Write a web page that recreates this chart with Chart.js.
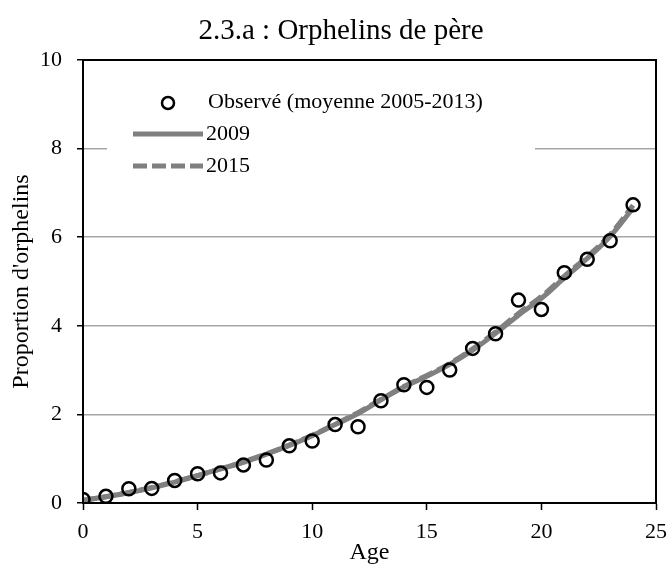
<!DOCTYPE html>
<html>
<head>
<meta charset="utf-8">
<script src="https://cdn.jsdelivr.net/npm/chart.js@4/dist/chart.umd.min.js"></script>
<style>
  html, body { margin: 0; padding: 0; background: #fff; }
  #wrap { width: 668px; height: 568px; }
</style>
</head>
<body>
<div id="wrap"><canvas id="chartOrphelins"></canvas></div>
<script>
// ages 0..24
const ages = [0, 1, 2, 3, 4, 5, 6, 7, 8, 9, 10, 11, 12, 13, 14, 15, 16, 17, 18, 19, 20, 21, 22, 23, 24];
const observed = [0.08, 0.15, 0.32, 0.33, 0.51, 0.66, 0.68, 0.86, 0.97, 1.29, 1.40, 1.77, 1.72,
  2.31, 2.67, 2.61, 3.00, 3.49, 3.82, 4.58, 4.37, 5.20, 5.50, 5.92, 6.73];
const proj2009 = [0.06, 0.14, 0.23, 0.34, 0.47, 0.62, 0.77, 0.92, 1.10, 1.30, 1.52, 1.77, 2.02,
  2.33, 2.62, 2.86, 3.13, 3.45, 3.83, 4.24, 4.62, 5.08, 5.52, 6.02, 6.66];
const proj2015 = [0.06, 0.14, 0.24, 0.35, 0.48, 0.62, 0.77, 0.93, 1.11, 1.31, 1.53, 1.78, 2.04,
  2.34, 2.63, 2.88, 3.15, 3.48, 3.86, 4.28, 4.66, 5.12, 5.56, 6.06, 6.72];
const yTicks = [0, 2, 4, 6, 8, 10];
const xTicks = [0, 5, 10, 15, 20, 25];

const chartTitle = '2.3.a : Orphelins de père';
const legendLabels = ['Observé (moyenne 2005-2013)', '2009', '2015'];

const serif = "'Liberation Serif', 'DejaVu Serif', serif";
const grey = '#808080';

function pairs(xs, ys) {
  return xs.map((x, i) => ({ x: x, y: ys[i] }));
}

const framePlugin = {
  id: 'frame',
  afterDatasetsDraw(chart) {
    const { ctx, chartArea: a } = chart;
    ctx.save();
    ctx.strokeStyle = '#000';
    ctx.lineWidth = 2;
    ctx.strokeRect(a.left, a.top, a.right - a.left, a.bottom - a.top);
    ctx.restore();
  },
  afterDraw(chart) {
    const ctx = chart.ctx;
    ctx.save();
    // title
    ctx.fillStyle = '#000';
    ctx.font = '29px ' + serif;
    ctx.textAlign = 'center';
    ctx.textBaseline = 'middle';
    ctx.fillText(chartTitle, 341, 31);

    // legend box inside plot area
    ctx.fillStyle = '#fff';
    ctx.fillRect(107, 84, 428, 96);
    ctx.font = '22px ' + serif;
    ctx.textAlign = 'left';
    ctx.fillStyle = '#000';

    ctx.beginPath();
    ctx.arc(168, 103, 6, 0, Math.PI * 2);
    ctx.lineWidth = 2.5;
    ctx.strokeStyle = '#000';
    ctx.stroke();
    ctx.fillText(legendLabels[0], 208, 102);

    ctx.strokeStyle = grey;
    ctx.lineWidth = 5;
    ctx.beginPath();
    ctx.moveTo(133, 134);
    ctx.lineTo(203, 134);
    ctx.stroke();
    ctx.fillText(legendLabels[1], 206, 134);

    ctx.setLineDash([14, 5]);
    ctx.beginPath();
    ctx.moveTo(133, 166);
    ctx.lineTo(203, 166);
    ctx.stroke();
    ctx.setLineDash([]);
    ctx.fillText(legendLabels[2], 206, 166);
    ctx.restore();
  },
};

new Chart(document.getElementById('chartOrphelins'), {
  type: 'line',
  data: {
    datasets: [
      {
        label: legendLabels[1],
        data: pairs(ages, proj2009),
        borderColor: grey,
        borderWidth: 5,
        pointRadius: 0,
        tension: 0.4,
        fill: false,
        order: 3,
      },
      {
        label: legendLabels[2],
        data: pairs(ages, proj2015),
        borderColor: grey,
        borderWidth: 5,
        borderDash: [14, 5],
        pointRadius: 0,
        tension: 0.4,
        fill: false,
        order: 2,
      },
      {
        label: legendLabels[0],
        data: pairs(ages, observed),
        showLine: false,
        pointRadius: 6.5,
        pointBorderWidth: 2.5,
        pointBorderColor: '#000',
        pointBackgroundColor: 'rgba(255,255,255,0)',
        order: 1,
      },
    ],
  },
  options: {
    responsive: true,
    maintainAspectRatio: false,
    animation: false,
    layout: { padding: { top: 60, right: 12, left: 0, bottom: 0 } },
    plugins: {
      legend: { display: false },
      tooltip: { enabled: false },
      title: { display: false },
    },
    scales: {
      x: {
        type: 'linear',
        min: 0,
        max: 25,
        afterBuildTicks: (s) => { s.ticks = xTicks.map((v) => ({ value: v })); },
        afterFit: (s) => { s.height = 65; s.paddingLeft = 0; s.paddingRight = 0; },
        ticks: { color: '#000', font: { family: serif, size: 22 }, padding: 9 },
        grid: { drawOnChartArea: false, tickLength: 7, tickColor: '#000', tickWidth: 1.5 },
        border: { color: '#000', width: 2 },
        title: { display: true, text: 'Age', color: '#000', font: { family: serif, size: 24 }, padding: { top: 0, bottom: 1 } },
      },
      y: {
        min: 0,
        max: 10,
        afterBuildTicks: (s) => { s.ticks = yTicks.map((v) => ({ value: v })); },
        afterFit: (s) => { s.width = 83; s.paddingTop = 0; s.paddingBottom = 0; },
        ticks: { color: '#000', font: { family: serif, size: 22 }, padding: 15 },
        grid: {
          color: (c) => (c.tick && (c.tick.value === 0 || c.tick.value === 10) ? 'rgba(0,0,0,0)' : '#a6a6a6'),
          lineWidth: 1.5,
          tickLength: 6,
          tickColor: '#000',
          tickWidth: 1.5,
        },
        border: { color: '#000', width: 2 },
        title: { display: true, text: "Proportion d'orphelins", color: '#000', font: { family: serif, size: 24 }, padding: { top: 7, bottom: 0 } },
      },
    },
  },
  plugins: [framePlugin],
});
</script>
</body>
</html>
